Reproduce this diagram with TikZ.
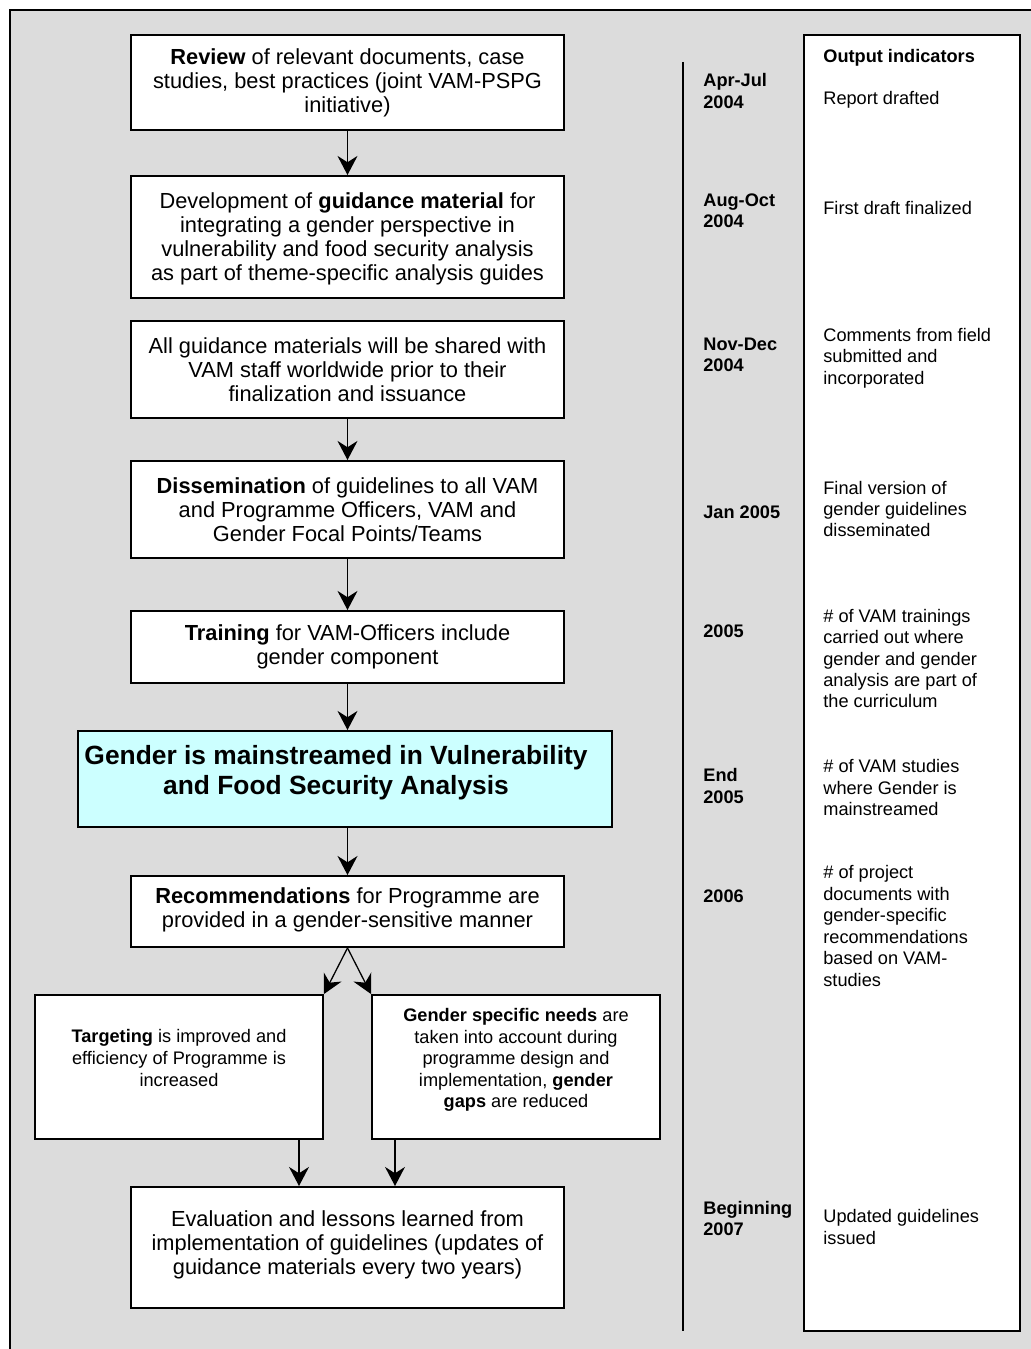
\documentclass[tikz,border=0pt]{standalone}
\usepackage{fontspec}
\setmainfont{Liberation Sans}
\usetikzlibrary{arrows.meta}
\definecolor{bgpat}{RGB}{220,220,220}
\definecolor{titlecyan}{RGB}{204,255,255}
\begin{document}
\begin{tikzpicture}[x=0.55pt,y=-0.55pt,
 box/.style={draw=black, line width=1.1pt, fill=white, inner sep=0pt},
 maintxt/.style={align=center, inner sep=0pt, font=\fontsize{12}{13.2}\selectfont},
 smalltxt/.style={align=center, inner sep=0pt, font=\fontsize{10}{11.9}\selectfont},
 datetxt/.style={anchor=west, align=left, inner sep=0pt, font=\fontsize{10}{11.6}\selectfont\bfseries},
 indtxt/.style={anchor=west, align=left, inner sep=0pt, font=\fontsize{10}{11.8}\selectfont},
 arr/.style={-{Stealth[length=10.5pt,width=11pt,inset=3.5pt]}, line width=0.7pt}]

\useasboundingbox (0,0) rectangle (1031,1349);
\clip (0,0) rectangle (1031,1349);
\fill[white] (0,0) rectangle (1031,1349);
\draw[fill=bgpat, line width=1.1pt] (10,10) rectangle (1045,1365);

% main flow boxes
\node[box, minimum width=238.15pt, minimum height=52.25pt] (b1) at (347.5,82.5) {};
\node[box, minimum width=238.15pt, minimum height=67.1pt] (b2) at (347.5,237) {};
\node[box, minimum width=238.15pt, minimum height=53.35pt] (b3) at (347.5,369.5) {};
\node[box, minimum width=238.15pt, minimum height=53.35pt] (b4) at (347.5,509.5) {};
\node[box, minimum width=238.15pt, minimum height=39.6pt] (b5) at (347.5,647) {};
\node[box, fill=titlecyan, minimum width=293.7pt, minimum height=52.8pt] (b6) at (345,779) {};
\node[box, minimum width=238.15pt, minimum height=39pt] (b7) at (347.5,911.5) {};
\node[box, minimum width=158.4pt, minimum height=79.2pt] (b8) at (179,1067) {};
\node[box, minimum width=158.4pt, minimum height=79.2pt] (b9) at (516,1067) {};
\node[box, minimum width=238.15pt, minimum height=66.55pt] (b10) at (347.5,1247.5) {};

% box texts
\node[maintxt] (t1) at (347.5,83)
 {\textbf{Review} of relevant documents, case\\studies, best practices (joint VAM-PSPG\\initiative)};
\node[maintxt] (t2) at (347.5,239)
 {Development of \textbf{guidance material} for\\integrating a gender perspective in\\vulnerability and food security analysis\\as part of theme-specific analysis guides};
\node[maintxt] (t3) at (347.5,370)
 {All guidance materials will be shared with\\VAM staff worldwide prior to their\\finalization and issuance};
\node[maintxt] (t4) at (347.5,510)
 {\textbf{Dissemination} of guidelines to all VAM\\and Programme Officers, VAM and\\Gender Focal Points/Teams};
\node[maintxt] (t5) at (347.5,647)
 {\textbf{Training} for VAM-Officers include\\gender component};
\node[maintxt, font=\fontsize{14.5}{16.5}\selectfont\bfseries] (t6) at (336,773)
 {Gender is mainstreamed in Vulnerability\\and Food Security Analysis};
\node[maintxt] (t7) at (347.5,910)
 {\textbf{Recommendations} for Programme are\\provided in a gender-sensitive manner};
\node[smalltxt] (t8) at (179,1058)
 {\textbf{Targeting} is improved and\\efficiency of Programme is\\increased};
\node[smalltxt] (t9) at (516,1060)
 {\textbf{Gender specific needs} are\\taken into account during\\programme design and\\implementation, \textbf{gender}\\\textbf{gaps} are reduced};
\node[maintxt] (t10) at (347.5,1245)
 {Evaluation and lessons learned from\\implementation of guidelines (updates of\\guidance materials every two years)};

% connectors
\coordinate (xa) at (299,0);
\coordinate (xb) at (395,0);
\draw[arr] (b1.south) -- (b2.north);
\draw[arr] (b3.south) -- (b4.north);
\draw[arr] (b4.south) -- (b5.north);
\draw[arr] (b5.south) -- (b5.south |- b6.north);
\draw[arr] (b6.south -| b7.north) -- (b7.north);
\draw[arr] (b7.south) -- (b8.north east);
\draw[arr] (b7.south) -- (b9.north west);
\draw[arr] (b8.south -| xa) -- (b10.north -| xa);
\draw[arr] (b9.south -| xb) -- (b10.north -| xb);

% timeline
\coordinate (vt) at (683,62);
\coordinate (vb) at (683,1331);
\draw[line width=1.1pt] (vt) -- (vb);

\node[datetxt] (d1) at (703,91) {Apr-Jul\\2004};
\node[datetxt] (d2) at (703,210.5) {Aug-Oct\\2004};
\node[datetxt] (d3) at (703,354.5) {Nov-Dec\\2004};
\node[datetxt] (d4) at (703,512) {Jan 2005};
\node[datetxt] (d5) at (703,631) {2005};
\node[datetxt] (d6) at (703,786) {End\\2005};
\node[datetxt] (d7) at (703,896) {2006};
\node[datetxt] (d8) at (703,1218.5) {Beginning\\2007};

% output indicators
\node[box, minimum width=118.8pt, minimum height=712.8pt] (ob) at (912,683) {};
\node[indtxt, font=\fontsize{10}{11.8}\selectfont\bfseries] (i0) at (823,58) {Output indicators};
\node[indtxt] (i1) at (823,100) {Report drafted};
\node[indtxt] (i2) at (823,208) {First draft finalized};
\node[indtxt] (i3) at (823,358) {Comments from field\\submitted and\\incorporated};
\node[indtxt] (i4) at (823,509) {Final version of\\gender guidelines\\disseminated};
\node[indtxt] (i5) at (823,658.5) {\# of VAM trainings\\carried out where\\gender and gender\\analysis are part of\\the curriculum};
\node[indtxt] (i6) at (823,787.5) {\# of VAM studies\\where Gender is\\mainstreamed};
\node[indtxt] (i7) at (823,926) {\# of project\\documents with\\gender-specific\\recommendations\\based on VAM-\\studies};
\node[indtxt] (i8) at (823,1227) {Updated guidelines\\issued};
\end{tikzpicture}
\end{document}
